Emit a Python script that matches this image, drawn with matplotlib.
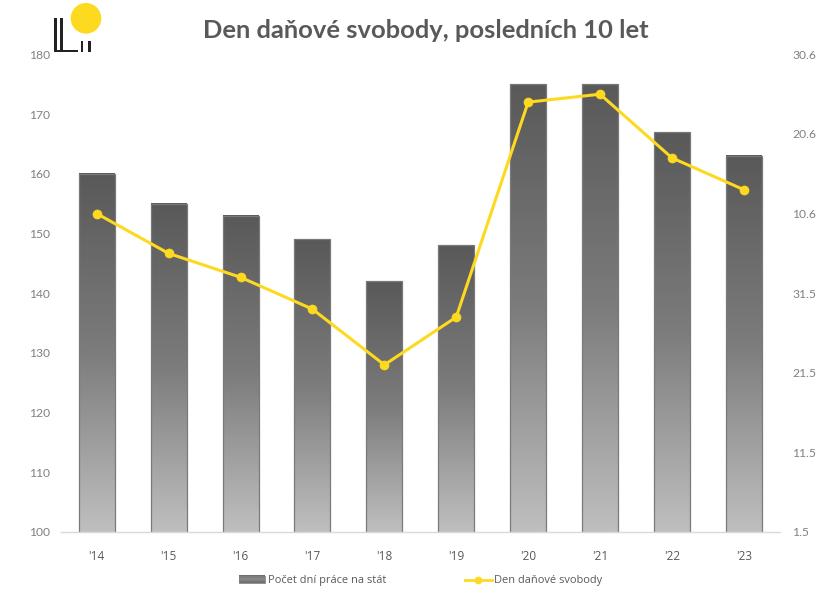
import numpy as np
import matplotlib
matplotlib.use('Agg')
import matplotlib.pyplot as plt
from matplotlib.colors import LinearSegmentedColormap
from matplotlib.patches import Circle, Rectangle

years = ["'14", "'15", "'16", "'17", "'18", "'19", "'20", "'21", "'22", "'23"]
work_days = [160, 155, 153, 149, 142, 148, 175, 175, 167, 163]
freedom_day = [161, 156, 153, 149, 142, 148, 175, 176, 168, 164]
left_ticks = [100, 110, 120, 130, 140, 150, 160, 170, 180]
right_tick_days = [121, 131, 141, 151, 161, 171, 181]
right_tick_labels = ['1.5', '11.5', '21.5', '31.5', '10.6', '20.6', '30.6']
title = 'Den daňové svobody, posledních 10 let'
bar_label = 'Počet dní práce na stát'
line_label = 'Den daňové svobody'

W, H = 828, 600
YEL = '#FDD91F'
TXT = '#808080'
fig = plt.figure(figsize=(W/100, H/100), dpi=100, facecolor='white')
ax = fig.add_axes([60.8/W, 1-532/H, (779.8-60.8)/W, (532-54.4)/H])
x = np.arange(len(years))
cmap = LinearSegmentedColormap.from_list('g', ['#595959', '#7c7c7c', '#bfbfbf'])
grad = np.linspace(0, 1, 256).reshape(-1, 1)
bars = ax.bar(x, work_days, width=0.5, color='none', edgecolor='#7a7a7a', linewidth=0.9, zorder=2)
for b in bars:
    ax.imshow(grad, cmap=cmap, aspect='auto', zorder=1.5,
              extent=[b.get_x(), b.get_x()+b.get_width(), 100, b.get_height()], origin='upper')
ax.set_xlim(-0.5, len(years)-0.5)
ax.set_ylim(100, 180)
ax.set_aspect('auto')
ax.set_xticks(x, years)
ax.set_yticks(left_ticks)
for s in ['top', 'left', 'right']:
    ax.spines[s].set_visible(False)
ax.spines['bottom'].set_color('#D9D9D9')
ax.spines['bottom'].set_linewidth(1)
ax.tick_params(length=0)
ax.tick_params(axis='x', labelsize=8.5, labelcolor='#595959', pad=13)
ax.tick_params(axis='y', labelsize=8.7, labelcolor=TXT, pad=8)
for t in ax.get_xticklabels():
    t.set_fontfamily('Open Sans')
for t in ax.get_yticklabels():
    t.set_fontfamily('Lato')

ax2 = ax.twinx()
ax2.set_ylim(121, 181)
ax2.plot(x, freedom_day, color=YEL, lw=2.2, marker='o', ms=6.5, mfc=YEL, mec=YEL, mew=0.5,
         zorder=5, solid_capstyle='round')
ax2.set_yticks(right_tick_days, right_tick_labels)
for s in ax2.spines.values():
    s.set_visible(False)
ax2.tick_params(length=0, labelsize=8.7, labelcolor=TXT, pad=9)
for t in ax2.get_yticklabels():
    t.set_fontfamily('Lato')

fig.text(426/W, 1-31/H, title, ha='center', va='center', fontsize=18.35,
         fontweight='bold', color='#595959', family='Lato')

ov = fig.add_axes([0, 0, 1, 1], facecolor='none')
ov.set_xlim(0, W); ov.set_ylim(H, 0); ov.axis('off')
ov.add_patch(Circle((86, 18.3), 15.3, color=YEL, lw=0))
for rect in [(54.5, 18, 2.7, 34), (60.5, 18, 2.7, 34), (54.5, 49.5, 23.5, 2.5), (81, 40.5, 2.5, 11.5), (87.8, 40.5, 2.8, 11.5)]:
    ov.add_patch(Rectangle(rect[:2], rect[2], rect[3], color='#222222', lw=0))
# legend
ov.imshow(grad[:, :], cmap=LinearSegmentedColormap.from_list('l', ['#6a6a6a', '#8c8c8c', '#6a6a6a']),
          extent=[239.5, 265.5, 583, 575.5], aspect='auto', origin='upper')
ov.set_xlim(0, W); ov.set_ylim(H, 0)
ov.add_patch(Rectangle((239.5, 575.5), 26, 7.5, fill=False, ec='#7f7f7f', lw=0.6))
ov.text(268.5, 580, bar_label, va='center', ha='left', fontsize=7.9, color='#595959', family='Open Sans')
ov.plot([465, 492], [579.5, 579.5], color=YEL, lw=2)
ov.plot([478.5], [579.5], marker='o', ms=4.5, color=YEL)
ov.text(494, 580, line_label, va='center', ha='left', fontsize=7.9, color='#595959', family='Open Sans')

fig.savefig('out.png', dpi=100)
